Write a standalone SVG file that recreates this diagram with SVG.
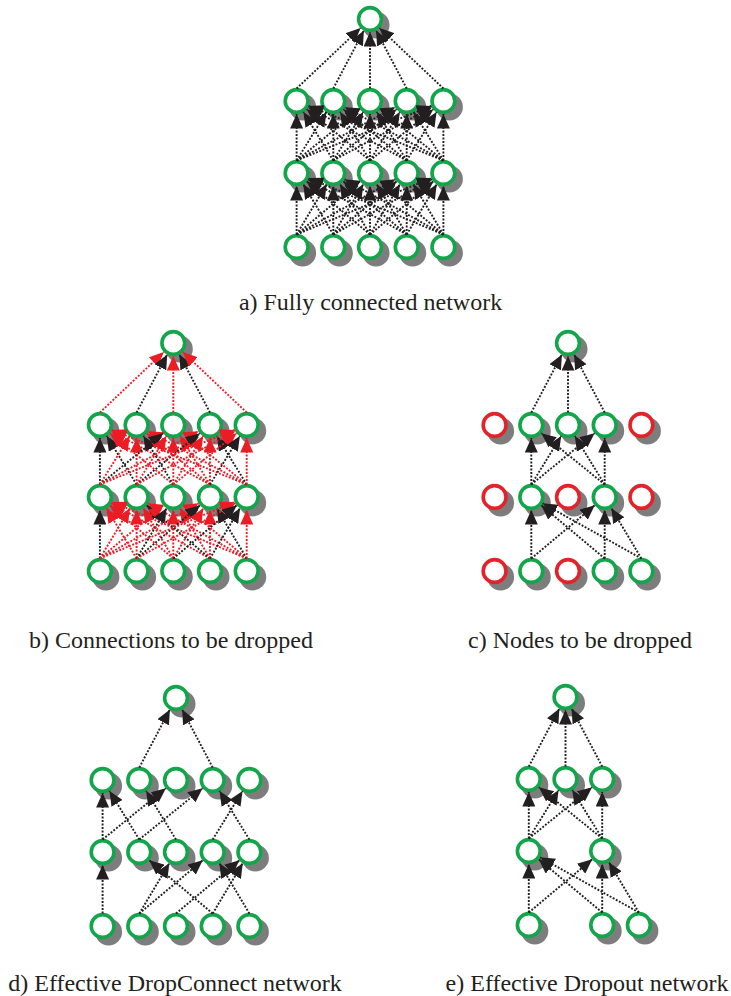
<svg xmlns="http://www.w3.org/2000/svg" width="731" height="996" viewBox="0 0 731 996">
<defs>
<style>
.sh{fill:#7d7d7d}
.g{fill:#fff;stroke:#12a64b;stroke-width:3.6}
.rd{fill:#fff;stroke:#e4222a;stroke-width:3.6}
line{stroke-width:1.9;stroke-dasharray:1.9 1.6;fill:none}
.k{stroke:#231f20;marker-end:url(#ah)}
.r{stroke:#ec1c24;marker-end:url(#ahr)}
</style>
<marker id="ah" markerUnits="userSpaceOnUse" markerWidth="15" markerHeight="13" viewBox="0 0 15 13" refX="14.5" refY="6.5" orient="auto"><path d="M0,0 L14.5,6.5 L0,13 z" fill="#231f20"/></marker>
<marker id="ahr" markerUnits="userSpaceOnUse" markerWidth="15" markerHeight="13" viewBox="0 0 15 13" refX="14.5" refY="6.5" orient="auto"><path d="M0,0 L14.5,6.5 L0,13 z" fill="#ec1c24"/></marker>
</defs>
<rect width="731" height="996" fill="#fff"/>

<!-- Panel a nodes -->
<g id="nodes-a" transform="translate(370,19)">
<g id="a-out"><circle class="sh" cx="6" cy="6" r="13.5"/><circle class="g" cx="0" cy="0" r="11.4"/></g>
<g id="a-h1-1"><circle class="sh" cx="-67.4" cy="88" r="13.5"/><circle class="g" cx="-73.4" cy="82" r="11.4"/></g>
<g id="a-h1-2"><circle class="sh" cx="-30.7" cy="88" r="13.5"/><circle class="g" cx="-36.7" cy="82" r="11.4"/></g>
<g id="a-h1-3"><circle class="sh" cx="6" cy="88" r="13.5"/><circle class="g" cx="0" cy="82" r="11.4"/></g>
<g id="a-h1-4"><circle class="sh" cx="42.7" cy="88" r="13.5"/><circle class="g" cx="36.7" cy="82" r="11.4"/></g>
<g id="a-h1-5"><circle class="sh" cx="79.4" cy="88" r="13.5"/><circle class="g" cx="73.4" cy="82" r="11.4"/></g>
<g id="a-h2-1"><circle class="sh" cx="-67.4" cy="160" r="13.5"/><circle class="g" cx="-73.4" cy="154" r="11.4"/></g>
<g id="a-h2-2"><circle class="sh" cx="-30.7" cy="160" r="13.5"/><circle class="g" cx="-36.7" cy="154" r="11.4"/></g>
<g id="a-h2-3"><circle class="sh" cx="6" cy="160" r="13.5"/><circle class="g" cx="0" cy="154" r="11.4"/></g>
<g id="a-h2-4"><circle class="sh" cx="42.7" cy="160" r="13.5"/><circle class="g" cx="36.7" cy="154" r="11.4"/></g>
<g id="a-h2-5"><circle class="sh" cx="79.4" cy="160" r="13.5"/><circle class="g" cx="73.4" cy="154" r="11.4"/></g>
<g id="a-in-1"><circle class="sh" cx="-67.4" cy="234" r="13.5"/><circle class="g" cx="-73.4" cy="228" r="11.4"/></g>
<g id="a-in-2"><circle class="sh" cx="-30.7" cy="234" r="13.5"/><circle class="g" cx="-36.7" cy="228" r="11.4"/></g>
<g id="a-in-3"><circle class="sh" cx="6" cy="234" r="13.5"/><circle class="g" cx="0" cy="228" r="11.4"/></g>
<g id="a-in-4"><circle class="sh" cx="42.7" cy="234" r="13.5"/><circle class="g" cx="36.7" cy="228" r="11.4"/></g>
<g id="a-in-5"><circle class="sh" cx="79.4" cy="234" r="13.5"/><circle class="g" cx="73.4" cy="228" r="11.4"/></g>
</g>

<!-- Panel b nodes -->
<g id="nodes-b" transform="translate(173.3,343)">
<g id="b-out"><circle class="sh" cx="6" cy="6" r="13.5"/><circle class="g" cx="0" cy="0" r="11.4"/></g>
<g id="b-h1-1"><circle class="sh" cx="-67.4" cy="88" r="13.5"/><circle class="g" cx="-73.4" cy="82" r="11.4"/></g>
<g id="b-h1-2"><circle class="sh" cx="-30.7" cy="88" r="13.5"/><circle class="g" cx="-36.7" cy="82" r="11.4"/></g>
<g id="b-h1-3"><circle class="sh" cx="6" cy="88" r="13.5"/><circle class="g" cx="0" cy="82" r="11.4"/></g>
<g id="b-h1-4"><circle class="sh" cx="42.7" cy="88" r="13.5"/><circle class="g" cx="36.7" cy="82" r="11.4"/></g>
<g id="b-h1-5"><circle class="sh" cx="79.4" cy="88" r="13.5"/><circle class="g" cx="73.4" cy="82" r="11.4"/></g>
<g id="b-h2-1"><circle class="sh" cx="-67.4" cy="160" r="13.5"/><circle class="g" cx="-73.4" cy="154" r="11.4"/></g>
<g id="b-h2-2"><circle class="sh" cx="-30.7" cy="160" r="13.5"/><circle class="g" cx="-36.7" cy="154" r="11.4"/></g>
<g id="b-h2-3"><circle class="sh" cx="6" cy="160" r="13.5"/><circle class="g" cx="0" cy="154" r="11.4"/></g>
<g id="b-h2-4"><circle class="sh" cx="42.7" cy="160" r="13.5"/><circle class="g" cx="36.7" cy="154" r="11.4"/></g>
<g id="b-h2-5"><circle class="sh" cx="79.4" cy="160" r="13.5"/><circle class="g" cx="73.4" cy="154" r="11.4"/></g>
<g id="b-in-1"><circle class="sh" cx="-67.4" cy="234" r="13.5"/><circle class="g" cx="-73.4" cy="228" r="11.4"/></g>
<g id="b-in-2"><circle class="sh" cx="-30.7" cy="234" r="13.5"/><circle class="g" cx="-36.7" cy="228" r="11.4"/></g>
<g id="b-in-3"><circle class="sh" cx="6" cy="234" r="13.5"/><circle class="g" cx="0" cy="228" r="11.4"/></g>
<g id="b-in-4"><circle class="sh" cx="42.7" cy="234" r="13.5"/><circle class="g" cx="36.7" cy="228" r="11.4"/></g>
<g id="b-in-5"><circle class="sh" cx="79.4" cy="234" r="13.5"/><circle class="g" cx="73.4" cy="228" r="11.4"/></g>
</g>

<!-- Panel c nodes -->
<g id="nodes-c" transform="translate(568,343)">
<g id="c-out"><circle class="sh" cx="6" cy="6" r="13.5"/><circle class="g" cx="0" cy="0" r="11.4"/></g>
<g id="c-h1-1"><circle class="sh" cx="-67.4" cy="88" r="13.5"/><circle class="rd" cx="-73.4" cy="82" r="11.4"/></g>
<g id="c-h1-2"><circle class="sh" cx="-30.7" cy="88" r="13.5"/><circle class="g" cx="-36.7" cy="82" r="11.4"/></g>
<g id="c-h1-3"><circle class="sh" cx="6" cy="88" r="13.5"/><circle class="g" cx="0" cy="82" r="11.4"/></g>
<g id="c-h1-4"><circle class="sh" cx="42.7" cy="88" r="13.5"/><circle class="g" cx="36.7" cy="82" r="11.4"/></g>
<g id="c-h1-5"><circle class="sh" cx="79.4" cy="88" r="13.5"/><circle class="rd" cx="73.4" cy="82" r="11.4"/></g>
<g id="c-h2-1"><circle class="sh" cx="-67.4" cy="160" r="13.5"/><circle class="rd" cx="-73.4" cy="154" r="11.4"/></g>
<g id="c-h2-2"><circle class="sh" cx="-30.7" cy="160" r="13.5"/><circle class="g" cx="-36.7" cy="154" r="11.4"/></g>
<g id="c-h2-3"><circle class="sh" cx="6" cy="160" r="13.5"/><circle class="rd" cx="0" cy="154" r="11.4"/></g>
<g id="c-h2-4"><circle class="sh" cx="42.7" cy="160" r="13.5"/><circle class="g" cx="36.7" cy="154" r="11.4"/></g>
<g id="c-h2-5"><circle class="sh" cx="79.4" cy="160" r="13.5"/><circle class="rd" cx="73.4" cy="154" r="11.4"/></g>
<g id="c-in-1"><circle class="sh" cx="-67.4" cy="234" r="13.5"/><circle class="rd" cx="-73.4" cy="228" r="11.4"/></g>
<g id="c-in-2"><circle class="sh" cx="-30.7" cy="234" r="13.5"/><circle class="g" cx="-36.7" cy="228" r="11.4"/></g>
<g id="c-in-3"><circle class="sh" cx="6" cy="234" r="13.5"/><circle class="rd" cx="0" cy="228" r="11.4"/></g>
<g id="c-in-4"><circle class="sh" cx="42.7" cy="234" r="13.5"/><circle class="g" cx="36.7" cy="228" r="11.4"/></g>
<g id="c-in-5"><circle class="sh" cx="79.4" cy="234" r="13.5"/><circle class="g" cx="73.4" cy="228" r="11.4"/></g>
</g>

<!-- Panel d nodes -->
<g id="nodes-d" transform="translate(176,698)">
<g id="d-out"><circle class="sh" cx="6" cy="6" r="13.5"/><circle class="g" cx="0" cy="0" r="11.4"/></g>
<g id="d-h1-1"><circle class="sh" cx="-67.4" cy="88" r="13.5"/><circle class="g" cx="-73.4" cy="82" r="11.4"/></g>
<g id="d-h1-2"><circle class="sh" cx="-30.7" cy="88" r="13.5"/><circle class="g" cx="-36.7" cy="82" r="11.4"/></g>
<g id="d-h1-3"><circle class="sh" cx="6" cy="88" r="13.5"/><circle class="g" cx="0" cy="82" r="11.4"/></g>
<g id="d-h1-4"><circle class="sh" cx="42.7" cy="88" r="13.5"/><circle class="g" cx="36.7" cy="82" r="11.4"/></g>
<g id="d-h1-5"><circle class="sh" cx="79.4" cy="88" r="13.5"/><circle class="g" cx="73.4" cy="82" r="11.4"/></g>
<g id="d-h2-1"><circle class="sh" cx="-67.4" cy="160" r="13.5"/><circle class="g" cx="-73.4" cy="154" r="11.4"/></g>
<g id="d-h2-2"><circle class="sh" cx="-30.7" cy="160" r="13.5"/><circle class="g" cx="-36.7" cy="154" r="11.4"/></g>
<g id="d-h2-3"><circle class="sh" cx="6" cy="160" r="13.5"/><circle class="g" cx="0" cy="154" r="11.4"/></g>
<g id="d-h2-4"><circle class="sh" cx="42.7" cy="160" r="13.5"/><circle class="g" cx="36.7" cy="154" r="11.4"/></g>
<g id="d-h2-5"><circle class="sh" cx="79.4" cy="160" r="13.5"/><circle class="g" cx="73.4" cy="154" r="11.4"/></g>
<g id="d-in-1"><circle class="sh" cx="-67.4" cy="234" r="13.5"/><circle class="g" cx="-73.4" cy="228" r="11.4"/></g>
<g id="d-in-2"><circle class="sh" cx="-30.7" cy="234" r="13.5"/><circle class="g" cx="-36.7" cy="228" r="11.4"/></g>
<g id="d-in-3"><circle class="sh" cx="6" cy="234" r="13.5"/><circle class="g" cx="0" cy="228" r="11.4"/></g>
<g id="d-in-4"><circle class="sh" cx="42.7" cy="234" r="13.5"/><circle class="g" cx="36.7" cy="228" r="11.4"/></g>
<g id="d-in-5"><circle class="sh" cx="79.4" cy="234" r="13.5"/><circle class="g" cx="73.4" cy="228" r="11.4"/></g>
</g>

<!-- Panel e nodes -->
<g id="nodes-e" transform="translate(565.5,697)">
<g id="e-out"><circle class="sh" cx="6" cy="6" r="13.5"/><circle class="g" cx="0" cy="0" r="11.4"/></g>
<g id="e-h1-2"><circle class="sh" cx="-30.7" cy="88" r="13.5"/><circle class="g" cx="-36.7" cy="82" r="11.4"/></g>
<g id="e-h1-3"><circle class="sh" cx="6" cy="88" r="13.5"/><circle class="g" cx="0" cy="82" r="11.4"/></g>
<g id="e-h1-4"><circle class="sh" cx="42.7" cy="88" r="13.5"/><circle class="g" cx="36.7" cy="82" r="11.4"/></g>
<g id="e-h2-2"><circle class="sh" cx="-30.7" cy="160" r="13.5"/><circle class="g" cx="-36.7" cy="154" r="11.4"/></g>
<g id="e-h2-4"><circle class="sh" cx="42.7" cy="160" r="13.5"/><circle class="g" cx="36.7" cy="154" r="11.4"/></g>
<g id="e-in-2"><circle class="sh" cx="-30.7" cy="234" r="13.5"/><circle class="g" cx="-36.7" cy="228" r="11.4"/></g>
<g id="e-in-4"><circle class="sh" cx="42.7" cy="234" r="13.5"/><circle class="g" cx="36.7" cy="228" r="11.4"/></g>
<g id="e-in-5"><circle class="sh" cx="79.4" cy="234" r="13.5"/><circle class="g" cx="73.4" cy="228" r="11.4"/></g>
</g>

<g id="connectors">
<g id="conn-a" transform="translate(370,19)">
<line class="k" x1="-73.4" y1="69.5" x2="-9.44" y2="8.94"/>
<line class="k" x1="-36.7" y1="69.5" x2="-6.07" y2="11.49"/>
<line class="k" x1="0" y1="69.5" x2="0" y2="13"/>
<line class="k" x1="36.7" y1="69.5" x2="6.07" y2="11.49"/>
<line class="k" x1="73.4" y1="69.5" x2="9.44" y2="8.94"/>
<line class="k" x1="-73.4" y1="141.5" x2="-73.4" y2="95"/>
<line class="k" x1="-36.7" y1="141.5" x2="-66.58" y2="93.06"/>
<line class="k" x1="0" y1="141.5" x2="-63.3" y2="90.19"/>
<line class="k" x1="36.7" y1="141.5" x2="-61.96" y2="88.18"/>
<line class="k" x1="73.4" y1="141.5" x2="-61.35" y2="86.88"/>
<line class="k" x1="-73.4" y1="141.5" x2="-43.52" y2="93.06"/>
<line class="k" x1="-36.7" y1="141.5" x2="-36.7" y2="95"/>
<line class="k" x1="0" y1="141.5" x2="-29.88" y2="93.06"/>
<line class="k" x1="36.7" y1="141.5" x2="-26.6" y2="90.19"/>
<line class="k" x1="73.4" y1="141.5" x2="-25.26" y2="88.18"/>
<line class="k" x1="-73.4" y1="141.5" x2="-10.1" y2="90.19"/>
<line class="k" x1="-36.7" y1="141.5" x2="-6.82" y2="93.06"/>
<line class="k" x1="0" y1="141.5" x2="0" y2="95"/>
<line class="k" x1="36.7" y1="141.5" x2="6.82" y2="93.06"/>
<line class="k" x1="73.4" y1="141.5" x2="10.1" y2="90.19"/>
<line class="k" x1="-73.4" y1="141.5" x2="25.26" y2="88.18"/>
<line class="k" x1="-36.7" y1="141.5" x2="26.6" y2="90.19"/>
<line class="k" x1="0" y1="141.5" x2="29.88" y2="93.06"/>
<line class="k" x1="36.7" y1="141.5" x2="36.7" y2="95"/>
<line class="k" x1="73.4" y1="141.5" x2="43.52" y2="93.06"/>
<line class="k" x1="-73.4" y1="141.5" x2="61.35" y2="86.88"/>
<line class="k" x1="-36.7" y1="141.5" x2="61.96" y2="88.18"/>
<line class="k" x1="0" y1="141.5" x2="63.3" y2="90.19"/>
<line class="k" x1="36.7" y1="141.5" x2="66.58" y2="93.06"/>
<line class="k" x1="73.4" y1="141.5" x2="73.4" y2="95"/>
<line class="k" x1="-73.4" y1="215.5" x2="-73.4" y2="167"/>
<line class="k" x1="-36.7" y1="215.5" x2="-66.74" y2="165.16"/>
<line class="k" x1="0" y1="215.5" x2="-63.44" y2="162.35"/>
<line class="k" x1="36.7" y1="215.5" x2="-62.05" y2="160.34"/>
<line class="k" x1="73.4" y1="215.5" x2="-61.41" y2="159.02"/>
<line class="k" x1="-73.4" y1="215.5" x2="-43.36" y2="165.16"/>
<line class="k" x1="-36.7" y1="215.5" x2="-36.7" y2="167"/>
<line class="k" x1="0" y1="215.5" x2="-30.04" y2="165.16"/>
<line class="k" x1="36.7" y1="215.5" x2="-26.74" y2="162.35"/>
<line class="k" x1="73.4" y1="215.5" x2="-25.35" y2="160.34"/>
<line class="k" x1="-73.4" y1="215.5" x2="-9.96" y2="162.35"/>
<line class="k" x1="-36.7" y1="215.5" x2="-6.66" y2="165.16"/>
<line class="k" x1="0" y1="215.5" x2="0" y2="167"/>
<line class="k" x1="36.7" y1="215.5" x2="6.66" y2="165.16"/>
<line class="k" x1="73.4" y1="215.5" x2="9.96" y2="162.35"/>
<line class="k" x1="-73.4" y1="215.5" x2="25.35" y2="160.34"/>
<line class="k" x1="-36.7" y1="215.5" x2="26.74" y2="162.35"/>
<line class="k" x1="0" y1="215.5" x2="30.04" y2="165.16"/>
<line class="k" x1="36.7" y1="215.5" x2="36.7" y2="167"/>
<line class="k" x1="73.4" y1="215.5" x2="43.36" y2="165.16"/>
<line class="k" x1="-73.4" y1="215.5" x2="61.41" y2="159.02"/>
<line class="k" x1="-36.7" y1="215.5" x2="62.05" y2="160.34"/>
<line class="k" x1="0" y1="215.5" x2="63.44" y2="162.35"/>
<line class="k" x1="36.7" y1="215.5" x2="66.74" y2="165.16"/>
<line class="k" x1="73.4" y1="215.5" x2="73.4" y2="167"/>
</g>

<g id="conn-b" transform="translate(173.3,343)">
<line class="r" x1="-73.4" y1="69.5" x2="-9.44" y2="8.94"/>
<line class="k" x1="-36.7" y1="69.5" x2="-6.07" y2="11.49"/>
<line class="r" x1="0" y1="69.5" x2="0" y2="13"/>
<line class="k" x1="36.7" y1="69.5" x2="6.07" y2="11.49"/>
<line class="r" x1="73.4" y1="69.5" x2="9.44" y2="8.94"/>
<line class="k" x1="-73.4" y1="141.5" x2="-73.4" y2="95"/>
<line class="k" x1="-36.7" y1="141.5" x2="-66.58" y2="93.06"/>
<line class="r" x1="0" y1="141.5" x2="-63.3" y2="90.19"/>
<line class="r" x1="36.7" y1="141.5" x2="-61.96" y2="88.18"/>
<line class="r" x1="73.4" y1="141.5" x2="-61.35" y2="86.88"/>
<line class="r" x1="-73.4" y1="141.5" x2="-43.52" y2="93.06"/>
<line class="r" x1="-36.7" y1="141.5" x2="-36.7" y2="95"/>
<line class="k" x1="0" y1="141.5" x2="-29.88" y2="93.06"/>
<line class="r" x1="36.7" y1="141.5" x2="-26.6" y2="90.19"/>
<line class="r" x1="73.4" y1="141.5" x2="-25.26" y2="88.18"/>
<line class="k" x1="-73.4" y1="141.5" x2="-10.1" y2="90.19"/>
<line class="r" x1="-36.7" y1="141.5" x2="-6.82" y2="93.06"/>
<line class="r" x1="0" y1="141.5" x2="0" y2="95"/>
<line class="r" x1="36.7" y1="141.5" x2="6.82" y2="93.06"/>
<line class="r" x1="73.4" y1="141.5" x2="10.1" y2="90.19"/>
<line class="r" x1="-73.4" y1="141.5" x2="25.26" y2="88.18"/>
<line class="k" x1="-36.7" y1="141.5" x2="26.6" y2="90.19"/>
<line class="r" x1="0" y1="141.5" x2="29.88" y2="93.06"/>
<line class="r" x1="36.7" y1="141.5" x2="36.7" y2="95"/>
<line class="k" x1="73.4" y1="141.5" x2="43.52" y2="93.06"/>
<line class="r" x1="-73.4" y1="141.5" x2="61.35" y2="86.88"/>
<line class="r" x1="-36.7" y1="141.5" x2="61.96" y2="88.18"/>
<line class="r" x1="0" y1="141.5" x2="63.3" y2="90.19"/>
<line class="k" x1="36.7" y1="141.5" x2="66.58" y2="93.06"/>
<line class="r" x1="73.4" y1="141.5" x2="73.4" y2="95"/>
<line class="k" x1="-73.4" y1="215.5" x2="-73.4" y2="167"/>
<line class="r" x1="-36.7" y1="215.5" x2="-66.74" y2="165.16"/>
<line class="r" x1="0" y1="215.5" x2="-63.44" y2="162.35"/>
<line class="r" x1="36.7" y1="215.5" x2="-62.05" y2="160.34"/>
<line class="r" x1="73.4" y1="215.5" x2="-61.41" y2="159.02"/>
<line class="r" x1="-73.4" y1="215.5" x2="-43.36" y2="165.16"/>
<line class="r" x1="-36.7" y1="215.5" x2="-36.7" y2="167"/>
<line class="r" x1="0" y1="215.5" x2="-30.04" y2="165.16"/>
<line class="k" x1="36.7" y1="215.5" x2="-26.74" y2="162.35"/>
<line class="r" x1="73.4" y1="215.5" x2="-25.35" y2="160.34"/>
<line class="r" x1="-73.4" y1="215.5" x2="-9.96" y2="162.35"/>
<line class="k" x1="-36.7" y1="215.5" x2="-6.66" y2="165.16"/>
<line class="r" x1="0" y1="215.5" x2="0" y2="167"/>
<line class="r" x1="36.7" y1="215.5" x2="6.66" y2="165.16"/>
<line class="r" x1="73.4" y1="215.5" x2="9.96" y2="162.35"/>
<line class="r" x1="-73.4" y1="215.5" x2="25.35" y2="160.34"/>
<line class="k" x1="-36.7" y1="215.5" x2="26.74" y2="162.35"/>
<line class="r" x1="0" y1="215.5" x2="30.04" y2="165.16"/>
<line class="r" x1="36.7" y1="215.5" x2="36.7" y2="167"/>
<line class="k" x1="73.4" y1="215.5" x2="43.36" y2="165.16"/>
<line class="r" x1="-73.4" y1="215.5" x2="61.41" y2="159.02"/>
<line class="r" x1="-36.7" y1="215.5" x2="62.05" y2="160.34"/>
<line class="k" x1="0" y1="215.5" x2="63.44" y2="162.35"/>
<line class="k" x1="36.7" y1="215.5" x2="66.74" y2="165.16"/>
<line class="r" x1="73.4" y1="215.5" x2="73.4" y2="167"/>
</g>

<g id="conn-c" transform="translate(568,343)">
<line class="k" x1="-36.7" y1="69.5" x2="-6.07" y2="11.49"/>
<line class="k" x1="0" y1="69.5" x2="0" y2="13"/>
<line class="k" x1="36.7" y1="69.5" x2="6.07" y2="11.49"/>
<line class="k" x1="-36.7" y1="141.5" x2="-36.7" y2="95"/>
<line class="k" x1="-36.7" y1="141.5" x2="-6.82" y2="93.06"/>
<line class="k" x1="-36.7" y1="141.5" x2="26.6" y2="90.19"/>
<line class="k" x1="36.7" y1="141.5" x2="-26.6" y2="90.19"/>
<line class="k" x1="36.7" y1="141.5" x2="6.82" y2="93.06"/>
<line class="k" x1="36.7" y1="141.5" x2="36.7" y2="95"/>
<line class="k" x1="-36.7" y1="215.5" x2="-36.7" y2="167"/>
<line class="k" x1="-36.7" y1="215.5" x2="26.74" y2="162.35"/>
<line class="k" x1="36.7" y1="215.5" x2="-26.74" y2="162.35"/>
<line class="k" x1="36.7" y1="215.5" x2="36.7" y2="167"/>
<line class="k" x1="73.4" y1="215.5" x2="-25.35" y2="160.34"/>
<line class="k" x1="73.4" y1="215.5" x2="43.36" y2="165.16"/>
</g>

<g id="conn-d" transform="translate(176,698)">
<line class="k" x1="-36.7" y1="69.5" x2="-6.07" y2="11.49"/>
<line class="k" x1="36.7" y1="69.5" x2="6.07" y2="11.49"/>
<line class="k" x1="-73.4" y1="141.5" x2="-73.4" y2="95"/>
<line class="k" x1="-36.7" y1="141.5" x2="-66.58" y2="93.06"/>
<line class="k" x1="0" y1="141.5" x2="-29.88" y2="93.06"/>
<line class="k" x1="-73.4" y1="141.5" x2="-10.1" y2="90.19"/>
<line class="k" x1="-36.7" y1="141.5" x2="26.6" y2="90.19"/>
<line class="k" x1="73.4" y1="141.5" x2="43.52" y2="93.06"/>
<line class="k" x1="36.7" y1="141.5" x2="66.58" y2="93.06"/>
<line class="k" x1="-73.4" y1="215.5" x2="-73.4" y2="167"/>
<line class="k" x1="36.7" y1="215.5" x2="-26.74" y2="162.35"/>
<line class="k" x1="-36.7" y1="215.5" x2="-6.66" y2="165.16"/>
<line class="k" x1="-36.7" y1="215.5" x2="26.74" y2="162.35"/>
<line class="k" x1="73.4" y1="215.5" x2="43.36" y2="165.16"/>
<line class="k" x1="0" y1="215.5" x2="63.44" y2="162.35"/>
<line class="k" x1="36.7" y1="215.5" x2="66.74" y2="165.16"/>
</g>

<g id="conn-e" transform="translate(565.5,697)">
<line class="k" x1="-36.7" y1="69.5" x2="-6.07" y2="11.49"/>
<line class="k" x1="0" y1="69.5" x2="0" y2="13"/>
<line class="k" x1="36.7" y1="69.5" x2="6.07" y2="11.49"/>
<line class="k" x1="-36.7" y1="141.5" x2="-36.7" y2="95"/>
<line class="k" x1="-36.7" y1="141.5" x2="-6.82" y2="93.06"/>
<line class="k" x1="-36.7" y1="141.5" x2="26.6" y2="90.19"/>
<line class="k" x1="36.7" y1="141.5" x2="-26.6" y2="90.19"/>
<line class="k" x1="36.7" y1="141.5" x2="6.82" y2="93.06"/>
<line class="k" x1="36.7" y1="141.5" x2="36.7" y2="95"/>
<line class="k" x1="-36.7" y1="215.5" x2="-36.7" y2="167"/>
<line class="k" x1="-36.7" y1="215.5" x2="26.74" y2="162.35"/>
<line class="k" x1="36.7" y1="215.5" x2="-26.74" y2="162.35"/>
<line class="k" x1="36.7" y1="215.5" x2="36.7" y2="167"/>
<line class="k" x1="73.4" y1="215.5" x2="-25.35" y2="160.34"/>
<line class="k" x1="73.4" y1="215.5" x2="43.36" y2="165.16"/>
</g>
</g>

<g id="labels" font-family="Liberation Serif, Times New Roman, serif" font-size="24" fill="#231f20" text-anchor="middle">
<text x="370.5" y="310" font-family="Liberation Serif, serif">a) Fully connected network</text>
<text x="171" y="648" font-family="Liberation Serif, serif">b) Connections to be dropped</text>
<text x="580" y="648" font-family="Liberation Serif, serif">c) Nodes to be dropped</text>
<text x="175" y="991" font-family="Liberation Serif, serif">d) Effective DropConnect network</text>
<text x="587" y="991" font-family="Liberation Serif, serif">e) Effective Dropout network</text>
</g>
</svg>
